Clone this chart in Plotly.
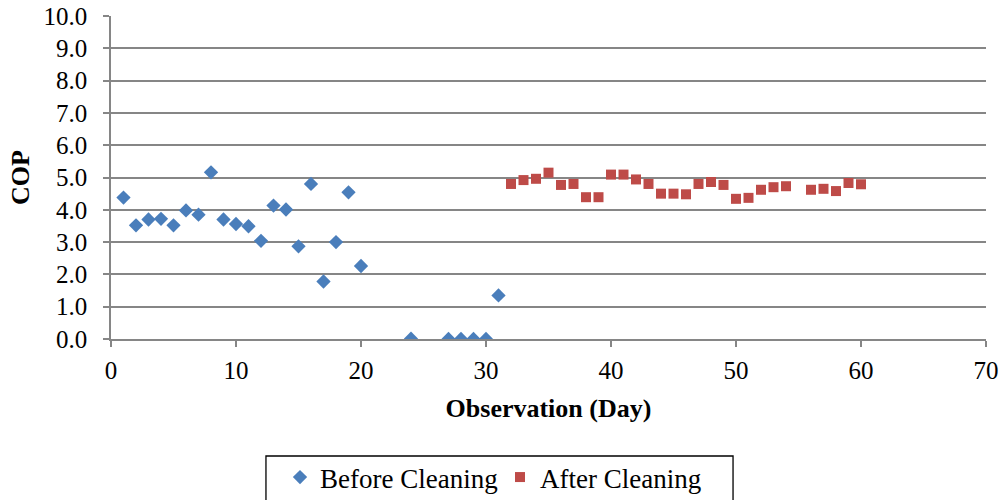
import plotly.graph_objects as go

# Before cleaning: day number and measured COP
before_day = [1, 2, 3, 4, 5, 6, 7, 8, 9, 10, 11, 12, 13, 14, 15, 16, 17, 18, 19, 20,
              24, 27, 28, 29, 30, 31]
before_cop = [4.38, 3.52, 3.70, 3.72, 3.52, 3.98, 3.85, 5.16, 3.70, 3.56, 3.49, 3.04,
              4.13, 4.01, 2.87, 4.80, 1.78, 3.00, 4.54, 2.26,
              0.01, 0.0, 0.0, 0.0, 0.0, 1.35]

# After cleaning: day number and measured COP
after_day = [32, 33, 34, 35, 36, 37, 38, 39, 40, 41, 42, 43, 44, 45, 46, 47, 48, 49,
             50, 51, 52, 53, 54, 56, 57, 58, 59, 60]
after_cop = [4.80, 4.92, 4.96, 5.15, 4.77, 4.80, 4.39, 4.39, 5.09, 5.09, 4.94, 4.80,
             4.50, 4.50, 4.48, 4.80, 4.86, 4.77, 4.34, 4.37, 4.62, 4.70, 4.73,
             4.62, 4.65, 4.58, 4.83, 4.79]

x_ticks = [0, 10, 20, 30, 40, 50, 60, 70]
y_ticks = [0, 1, 2, 3, 4, 5, 6, 7, 8, 9, 10]
y_tick_text = [f"{v:.1f}" for v in y_ticks]

FONT = "Liberation Serif"
AXIS_GREY = "#868686"

fig = go.Figure()
fig.add_trace(go.Scatter(
    x=before_day, y=before_cop, mode="markers", name="Before Cleaning",
    marker=dict(symbol="diamond", size=11, color="#4A7EBB"),
))
fig.add_trace(go.Scatter(
    x=after_day, y=after_cop, mode="markers", name="After Cleaning",
    marker=dict(symbol="square", size=10, color="#BE4B48"),
))

# frame around the legend, open at the bottom edge of the page
fig.add_shape(type="rect", xref="paper", yref="paper",
              x0=0.1771, x1=0.7109, y0=-0.51, y1=-0.3622,
              line=dict(color="black", width=1.3), fillcolor="rgba(0,0,0,0)")

fig.update_layout(
    width=1001, height=500,
    margin=dict(l=111, r=15, t=16, b=161, autoexpand=False),
    paper_bgcolor="white", plot_bgcolor="white",
    font=dict(family=FONT, size=25, color="black"),
    showlegend=True,
    legend=dict(
        orientation="h",
        xref="container", x=280 / 1001, xanchor="left",
        yref="container", y=1 - 453 / 500, yanchor="top",
        borderwidth=0, bgcolor="rgba(0,0,0,0)",
        font=dict(family=FONT, size=27, color="black"),
        itemwidth=30, entrywidth=175, tracegroupgap=0,
    ),
    xaxis=dict(
        range=[0, 70], tickvals=x_ticks, showgrid=False, zeroline=False,
        showline=True, linecolor=AXIS_GREY, linewidth=1.5,
        ticks="outside", ticklen=6, tickcolor=AXIS_GREY, tickwidth=1.5,
        ticklabelstandoff=2,
        tickfont=dict(family=FONT, size=25, color="black"),
        title=dict(text="<b>Observation (Day)</b>",
                   font=dict(family=FONT, size=26, color="black"), standoff=16),
    ),
    yaxis=dict(
        range=[0, 10], tickvals=y_ticks, ticktext=y_tick_text,
        showgrid=True, gridcolor=AXIS_GREY, gridwidth=1.5, zeroline=False,
        showline=True, linecolor=AXIS_GREY, linewidth=1.5,
        ticks="outside", ticklen=6, tickcolor=AXIS_GREY, tickwidth=1.5,
        ticklabelstandoff=11,
        tickfont=dict(family=FONT, size=25, color="black"),
        title=dict(text="<b>COP</b>",
                   font=dict(family=FONT, size=26, color="black"), standoff=6),
    ),
)

fig.write_html("out.html")
